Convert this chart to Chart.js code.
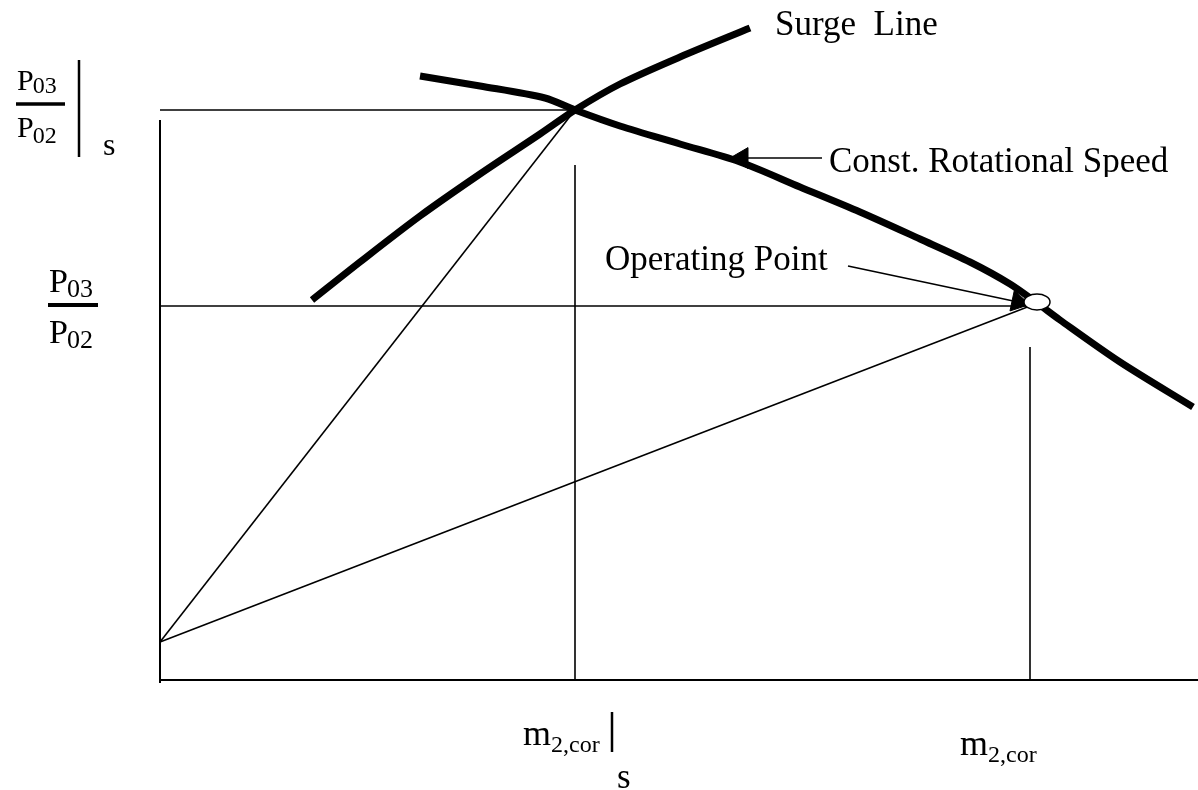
<!DOCTYPE html>
<html>
<head>
<meta charset="utf-8">
<script src="https://cdn.jsdelivr.net/npm/chart.js"></script>
<style>
body{margin:0;background:#fff;}
#wrap{width:1198px;height:790px;}
</style>
</head>
<body>
<div id="wrap"><canvas id="map" width="1198" height="790"></canvas></div>
<script>
// compressor map sketch: x = corrected mass flow, y = pressure ratio (arbitrary units)
var surgeX = [152,200,260,320,380,415,460,520,590];
var surgeY = [380,418,464,506,546,570,596,623,652];
var speedX = [260,320,385,415,460,520,580,640,700,760,810,850,877,900,960,1033];
var speedY = [604,594,582,570,554,536,518,493,468,441,418,396,377,360,318,273];
var surgePt = {x:415, y:570};
var opPt = {x:870, y:374};
var opMarker = {x:877, y:378};
var rayStart = {x:0, y:38};
var axisTop = 560, axisRight = 1038;

function pts(xs, ys){
  return xs.map(function(x, i){ return {x:x, y:ys[i]}; });
}
function seg(a, b, w){
  return {data:[a, b], showLine:true, borderColor:'#000', borderWidth:w, pointRadius:0, fill:false};
}

var datasets = [
  seg({x:0,y:axisTop}, {x:0,y:-3}, 2),
  seg({x:0,y:0}, {x:axisRight,y:0}, 2),
  seg({x:0,y:surgePt.y}, surgePt, 1.6),
  seg({x:surgePt.x,y:515}, {x:surgePt.x,y:0}, 1.6),
  seg({x:0,y:opPt.y}, opPt, 1.6),
  seg({x:opPt.x,y:333}, {x:opPt.x,y:0}, 1.6),
  seg(rayStart, surgePt, 1.6),
  seg(rayStart, opPt, 1.6),
  {data:pts(surgeX, surgeY), showLine:true, borderColor:'#000', borderWidth:7, pointRadius:0, tension:0.3, borderCapStyle:'butt'},
  {data:pts(speedX, speedY), showLine:true, borderColor:'#000', borderWidth:7, pointRadius:0, tension:0.3, borderCapStyle:'butt'},
  // leader for the speed line
  seg({x:662,y:522}, {x:582,y:522}, 1.6),
  {data:[{x:582,y:522}], pointStyle:'triangle', pointRadius:12, pointRotation:-90, backgroundColor:'#000', borderColor:'#000', pointBorderWidth:1},
  // leader for the operating point
  seg({x:688,y:414}, {x:858,y:378}, 1.6),
  {data:[{x:858,y:378}], pointStyle:'triangle', pointRadius:12, pointRotation:102, backgroundColor:'#000', borderColor:'#000', pointBorderWidth:1}
];

var labels = {
  id:'labels',
  afterDatasetsDraw: function(chart){
    var ctx = chart.ctx, sx = chart.scales.x, sy = chart.scales.y;
    ctx.save();
    ctx.beginPath();
    ctx.ellipse(sx.getPixelForValue(opMarker.x), sy.getPixelForValue(opMarker.y), 13, 8, 0, 0, Math.PI*2);
    ctx.fillStyle = '#fff';
    ctx.fill();
    ctx.lineWidth = 1.5;
    ctx.strokeStyle = '#000';
    ctx.stroke();
    ctx.restore();
  },
  afterDraw: function(chart){
    var ctx = chart.ctx;
    var ff = '"Liberation Serif", "Times New Roman", serif';
    ctx.save();
    ctx.fillStyle = '#000';
    ctx.strokeStyle = '#000';
    ctx.textBaseline = 'alphabetic';
    ctx.textAlign = 'left';
    function txt(s, x, y, size){
      ctx.font = size + 'px ' + ff;
      ctx.fillText(s, x, y);
      return x + ctx.measureText(s).width;
    }
    function line(x1, y1, x2, y2, w){
      ctx.beginPath();
      ctx.lineWidth = w;
      ctx.moveTo(x1, y1);
      ctx.lineTo(x2, y2);
      ctx.stroke();
    }
    // P03/P02 at surge
    var e = txt('P', 17, 90, 30);
    txt('03', e - 1, 93, 24);
    line(16, 104, 65, 104, 3.5);
    e = txt('P', 17, 137, 30);
    txt('02', e - 1, 143, 24);
    line(79, 60, 79, 157, 2.5);
    txt('s', 103, 155, 32);
    // P03/P02 at operating point
    e = txt('P', 49, 292, 34);
    txt('03', e - 1, 297, 26);
    line(48, 305, 98, 305, 4);
    e = txt('P', 49, 343, 34);
    txt('02', e - 1, 348, 26);
    // mass flow labels
    e = txt('m', 523, 745, 36);
    txt('2,cor', e, 752, 24);
    line(612, 712, 612, 752, 2.5);
    txt('s', 617, 788, 35);
    e = txt('m', 960, 755, 36);
    txt('2,cor', e, 762, 24);
    // curve labels
    txt('Surge  Line', 775, 35, 35);
    txt('Operating Point', 605, 270, 35);
    // text box in the source cuts this label's descenders
    ctx.save();
    ctx.beginPath();
    ctx.rect(800, 130, 398, 47);
    ctx.clip();
    txt('Const. Rotational Speed', 829, 172, 35);
    ctx.restore();
    ctx.restore();
  }
};

new Chart(document.getElementById('map').getContext('2d'), {
  type:'scatter',
  data:{datasets:datasets},
  options:{
    responsive:false,
    animation:false,
    layout:{padding:0, autoPadding:false},
    plugins:{legend:{display:false}, tooltip:{enabled:false}},
    scales:{
      x:{type:'linear', display:false, min:-160, max:1038},
      y:{type:'linear', display:false, min:-110, max:680}
    }
  },
  plugins:[labels]
});
</script>
</body>
</html>
